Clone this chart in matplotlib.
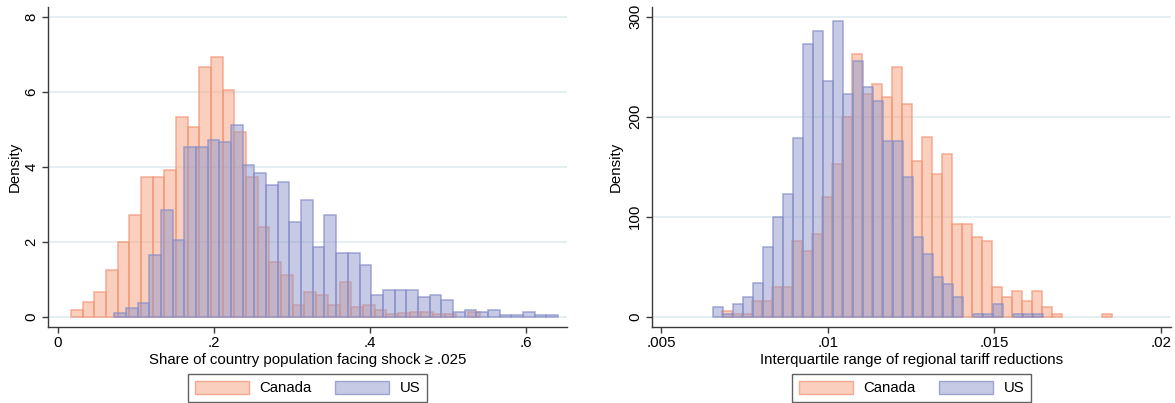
#!/usr/bin/env python3
"""Two overlaid density histograms (Canada vs US), Stata-like styling."""

import matplotlib
matplotlib.use("Agg")
import matplotlib.pyplot as plt
from matplotlib.patches import Patch

plt.rcParams["font.family"] = ["Liberation Sans", "DejaVu Sans"]

# --- left panel: share of country population facing shock >= .025 ---
share_bin_width = 0.01496
share_canada_start = 0.01705
share_us_start = 0.0726
share_canada = [0.18, 0.38, 0.65, 1.24, 1.98, 2.70, 3.72, 3.72, 3.91, 5.32,
                5.05, 6.65, 6.92, 6.05, 4.92, 3.72, 2.38, 1.45, 1.11, 0.31,
                0.65, 0.58, 0.31, 0.92, 0.25, 0.31, 0.18, 0.07, 0.11, 0.12,
                0.12, 0.06, 0.07, 0.0, 0.12]
share_us = [0.11, 0.24, 0.37, 1.65, 2.84, 2.05, 4.52, 4.52, 4.71, 4.65,
            5.12, 4.04, 3.84, 3.51, 3.58, 2.52, 3.11, 1.85, 2.71, 1.71,
            1.71, 1.38, 0.58, 0.71, 0.71, 0.71, 0.52, 0.58, 0.44, 0.12,
            0.18, 0.12, 0.18, 0.04, 0.04, 0.12, 0.04, 0.04]
share_xticks = [0, 0.2, 0.4, 0.6]
share_xticklabels = ["0", ".2", ".4", ".6"]
share_yticks = [0, 2, 4, 6, 8]

# --- right panel: interquartile range of regional tariff reductions ---
iqr_bin_width = 0.0003
iqr_canada_start = 0.006821
iqr_us_start = 0.006569
iqr_canada = [6.0, 2.3, 2.3, 16.0, 16.0, 29.3, 29.3, 76.0, 66.0, 82.7,
              119.3, 152.7, 199.3, 262.7, 222.7, 232.7, 219.3, 249.3, 212.7, 156.0,
              179.3, 142.7, 162.7, 92.7, 92.7, 79.3, 76.0, 29.3, 19.3, 26.0,
              16.0, 26.0, 9.3, 2.7, 0.0, 0.0, 0.0, 0.0, 2.7]
iqr_us = [9.3, 2.3, 12.3, 19.3, 33.3, 69.3, 99.3, 122.7, 179.0, 272.7,
          286.0, 236.0, 296.0, 222.7, 256.0, 229.3, 216.0, 176.0, 176.0, 139.3,
          79.3, 62.7, 39.3, 32.7, 19.3, 0.0, 2.7, 2.7, 12.7, 0.0,
          2.7, 2.7, 2.7]
iqr_xticks = [0.005, 0.01, 0.015, 0.02]
iqr_xticklabels = [".005", ".01", ".015", ".02"]
iqr_yticks = [0, 100, 200, 300]

series_names = ["Canada", "US"]

CANADA_FACE = (247 / 255, 161 / 255, 125 / 255, 0.5)
CANADA_EDGE = (242 / 255, 150 / 255, 118 / 255, 0.75)
US_FACE = (143 / 255, 151 / 255, 205 / 255, 0.5)
US_EDGE = (135 / 255, 142 / 255, 200 / 255, 0.75)
GRID = "#e3eef0"
AXIS = "#3a3a3a"
FS = 10.8


def draw_hist(ax, start, width, heights, face, edge):
    # skip empty bins so no edge line is drawn along the baseline
    edges = [start + i * width for i, h in enumerate(heights) if h > 0]
    vals = [h for h in heights if h > 0]
    ax.bar(edges, vals, width=width, align="edge",
           facecolor=face, edgecolor=edge, linewidth=1.1, zorder=2)


def style_axes(ax, xticks, xlabels, yticks, xlim, ylim, xlabel, ylab_x):
    ax.set_xlim(*xlim)
    ax.set_ylim(*ylim)
    ax.set_xticks(xticks)
    ax.set_xticklabels(xlabels)
    ax.set_yticks(yticks)
    ax.set_yticklabels([str(t) for t in yticks])
    for lab in ax.get_yticklabels():
        lab.set_rotation(90)
        lab.set_va("center")
    for s in ["top", "right"]:
        ax.spines[s].set_visible(False)
    for s in ["left", "bottom"]:
        ax.spines[s].set_color(AXIS)
        ax.spines[s].set_linewidth(1.0)
    ax.tick_params(axis="both", direction="out", length=4, width=1.0,
                   color=AXIS, labelsize=FS, pad=3)
    ax.yaxis.grid(True, color=GRID, linewidth=1.3, zorder=0)
    ax.set_axisbelow(True)
    ax.set_xlabel(xlabel, fontsize=FS, labelpad=2)
    ax.set_ylabel("Density", fontsize=FS)
    ax.yaxis.set_label_coords(ylab_x, 0.5)

    handles = [Patch(facecolor=CANADA_FACE, edgecolor=CANADA_EDGE, linewidth=1.0),
               Patch(facecolor=US_FACE, edgecolor=US_EDGE, linewidth=1.0)]
    leg = ax.legend(handles, series_names, loc="center",
                    bbox_to_anchor=(0.5, -0.192), ncol=2, fontsize=FS,
                    frameon=True, fancybox=False, handlelength=3.6,
                    handleheight=1.0, handletextpad=0.7, columnspacing=1.6,
                    borderpad=0.45, borderaxespad=0)
    leg.get_frame().set_edgecolor(AXIS)
    leg.get_frame().set_linewidth(1.0)


fig = plt.figure(figsize=(11.75, 4.03), dpi=100)

ax1 = fig.add_axes([48 / 1175, 1 - 326.7 / 403, 519 / 1175, 319.4 / 403])
draw_hist(ax1, share_canada_start, share_bin_width, share_canada, CANADA_FACE, CANADA_EDGE)
draw_hist(ax1, share_us_start, share_bin_width, share_us, US_FACE, US_EDGE)
style_axes(ax1, share_xticks, share_xticklabels, share_yticks,
           (-0.0124, 0.6526), (-0.267, 8.25),
           "Share of country population facing shock \u2265 .025", -0.050)

ax2 = fig.add_axes([652 / 1175, 1 - 326.7 / 403, 519 / 1175, 319.4 / 403])
draw_hist(ax2, iqr_canada_start, iqr_bin_width, iqr_canada, CANADA_FACE, CANADA_EDGE)
draw_hist(ax2, iqr_us_start, iqr_bin_width, iqr_us, US_FACE, US_EDGE)
style_axes(ax2, iqr_xticks, iqr_xticklabels, iqr_yticks,
           (0.00473, 0.0203), (-10, 309.4),
           "Interquartile range of regional tariff reductions", -0.056)

fig.savefig("out.png", dpi=100, facecolor="white")
